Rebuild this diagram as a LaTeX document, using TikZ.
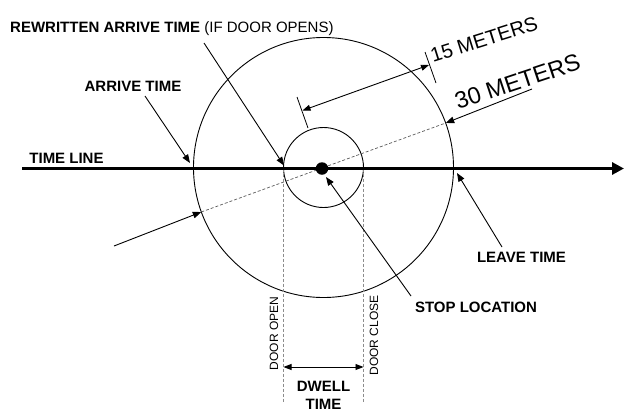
\documentclass[tikz,border=0pt]{standalone}
\usepackage{fontspec}
\setmainfont{Liberation Sans}
\usetikzlibrary{arrows.meta}
\begin{document}
\begin{tikzpicture}[x=1pt,y=-1pt,
  lbl/.style={font=\fontsize{15}{17}\selectfont\bfseries, inner sep=0pt},
  smalllbl/.style={font=\fontsize{12}{14}\selectfont, inner sep=0pt, rotate=90},
  dimlbl/.style={inner sep=0pt, anchor=base west},
  ptr/.style={line width=0.9pt, -{Triangle[length=8.5pt,width=6.5pt]}},
  dimarrow/.style={line width=0.9pt, {Triangle[length=8pt,width=6pt]}-{Triangle[length=8pt,width=6pt]}},
  ringline/.style={circle, draw, line width=0.9pt, inner sep=0pt},
  vdash/.style={draw=black!45, line width=0.9pt, dash pattern=on 3pt off 2pt},
  ddash/.style={draw=black!65, line width=0.7pt, dash pattern=on 3pt off 2pt},
  extline/.style={line width=0.8pt}
]
\useasboundingbox (0,0) rectangle (625,408);

% circles
\coordinate (C) at (323.5,167.5);
\node[ringline, minimum size=260pt] (big) at (C) {};
\node[ringline, minimum size=80pt] (small) at (C) {};

% diameter (dashed)
\coordinate (D1) at (445.7,123.0);
\coordinate (D2) at (201.3,212.0);
\draw[ddash] (D2) -- (D1);

% door lines
\coordinate (vo0) at (283.5,168.5);
\coordinate (vo1) at (283.5,402);
\coordinate (vc0) at (363.5,168.5);
\coordinate (vc1) at (363.5,402);
\draw[vdash] (vo0) -- (vo1);
\draw[vdash] (vc0) -- (vc1);

% time line
\coordinate (tl0) at (22,168.5);
\coordinate (tl1) at (624,168.5);
\draw[line width=3pt, -{Triangle[length=12pt,width=12pt]}] (tl0) -- (tl1);
\node[lbl] (tltext) at (66.5,158.5) {TIME LINE};

% stop dot
\node[circle, fill=black, minimum size=12.5pt, inner sep=0pt] (stop) at (322,168.5) {};

% rewritten arrive time
\node[lbl, anchor=base west] (rew) at (10,32) {REWRITTEN ARRIVE TIME {\mdseries(IF DOOR OPENS)}};
\coordinate (ra) at (204,43);
\coordinate (rb) at (284,165.5);
\draw[ptr] (ra) -- (rb);

% arrive time
\node[lbl] (arr) at (133,86.5) {ARRIVE TIME};
\coordinate (aa) at (145,96);
\coordinate (ab) at (190,163);
\draw[ptr] (aa) -- (ab);

% leave time
\node[lbl] (lv) at (521.5,257.5) {LEAVE TIME};
\coordinate (la) at (502,247);
\coordinate (lb) at (457,173);
\draw[ptr] (la) -- (lb);

% stop location
\node[lbl] (stl) at (476,307.5) {STOP LOCATION};
\coordinate (sa) at (411,296);
\coordinate (sb) at (326,177);
\draw[ptr] (sa) -- (sb);

% lower-left arrow to diameter end
\coordinate (lla) at (114,246);
\draw[ptr] (lla) -- (D2);

% 30 meters
\coordinate (u30) at (532,89);
\draw[ptr] (u30) -- (D1);
\node[dimlbl, rotate=18.4, font=\fontsize{23.5}{27}\selectfont] (t30) at (458,110) {30 METERS};

% 15 meters
\coordinate (e1a) at (297,97);
\coordinate (e1b) at (308,128);
\coordinate (e2a) at (425,52);
\coordinate (e2b) at (436,83);
\draw[extline] (e1a) -- (e1b);
\draw[extline] (e2a) -- (e2b);
\coordinate (m1) at (302.5,110.5);
\coordinate (m2) at (429,65);
\draw[dimarrow] (m1) -- (m2);
\node[dimlbl, rotate=17.5, font=\fontsize{20}{24}\selectfont] (t15) at (433,63) {15 METERS};

% door labels
\node[smalllbl] (dopen) at (274,333.5) {DOOR OPEN};
\node[smalllbl] (dclose) at (374,335.5) {DOOR CLOSE};

% dwell time
\coordinate (dw0) at (283.5,367);
\coordinate (dw1) at (363.5,367);
\draw[dimarrow] (dw0) -- (dw1);
\node[lbl] (dwell) at (323.5,386.2) {DWELL};
\node[lbl] (dtime) at (323.5,404.5) {TIME};
\end{tikzpicture}
\end{document}
